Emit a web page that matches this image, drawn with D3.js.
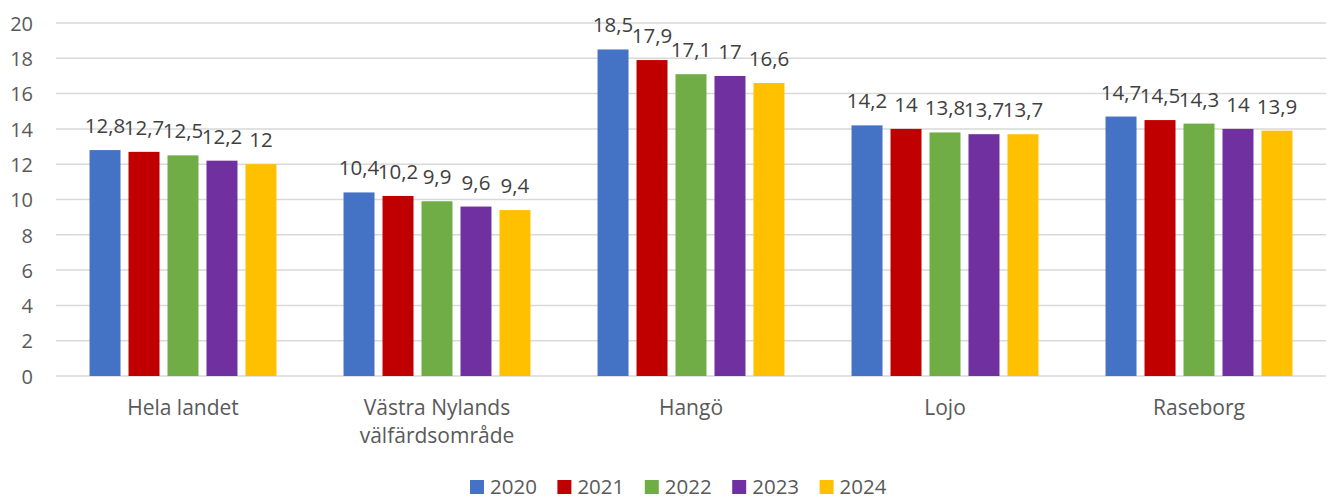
<!DOCTYPE html>
<html>
<head>
<meta charset="utf-8">
<script src="https://cdn.jsdelivr.net/npm/d3@7"></script>
<style>
  html, body { margin: 0; padding: 0; background: #fff; }
  svg { display: block; font-family: "Open Sans", "Noto Sans", sans-serif; }
</style>
</head>
<body>
<svg id="chart" width="1327" height="500"></svg>
<script>
// Categories (multi-line labels split on "\n")
const categories = ["Hela landet", "Västra Nylands\nvälfärdsområde", "Hangö", "Lojo", "Raseborg"];
const years = ["2020", "2021", "2022", "2023", "2024"];

// Values per year, one entry per category
const v2020 = [12.8, 10.4, 18.5, 14.2, 14.7];
const v2021 = [12.7, 10.2, 17.9, 14.0, 14.5];
const v2022 = [12.5, 9.9, 17.1, 13.8, 14.3];
const v2023 = [12.2, 9.6, 17.0, 13.7, 14.0];
const v2024 = [12.0, 9.4, 16.6, 13.7, 13.9];

const yTicks = [0, 2, 4, 6, 8, 10, 12, 14, 16, 18, 20];
const colors = ["#4472C4", "#C00000", "#70AD47", "#7030A0", "#FFC000"];

const seriesValues = [v2020, v2021, v2022, v2023, v2024];
const rows = categories.map((c, i) => ({
  category: c,
  values: years.map((y, j) => ({ year: y, value: seriesValues[j][i] }))
}));

const svg = d3.select("#chart");
const margin = { left: 56, right: 1, top: 23, bottom: 124 };
const W = 1327, H = 500;

const x0 = d3.scaleBand().domain(categories).range([margin.left, W - margin.right]).padding(0);
const x1 = d3.scaleBand().domain(years).range([0, x0.bandwidth()])
  .paddingInner(8 / 39).paddingOuter(0.86);
const y = d3.scaleLinear().domain([0, 20]).range([H - margin.bottom, margin.top]);

const fmt = v => String(v).replace(".", ",");

// Horizontal gridlines
svg.append("g")
  .selectAll("line")
  .data(yTicks)
  .join("line")
  .attr("x1", margin.left)
  .attr("x2", W - margin.right)
  .attr("y1", d => y(d))
  .attr("y2", d => y(d))
  .attr("stroke", "#D9D9D9")
  .attr("stroke-width", 1.5);

// Y axis labels
const yAxis = d3.axisLeft(y).tickValues(yTicks).tickSize(0).tickPadding(0).tickFormat(d => d);
svg.append("g")
  .attr("transform", `translate(33,0)`)
  .call(yAxis)
  .call(g => g.select(".domain").remove())
  .call(g => g.selectAll("text")
    .attr("fill", "#595959")
    .style("font-size", "20px")
    .style("font-family", "'Open Sans', sans-serif")
    .attr("dy", "0.36em"));

// Bars
const groups = svg.append("g")
  .selectAll("g")
  .data(rows)
  .join("g")
  .attr("transform", d => `translate(${x0(d.category)},0)`);

groups.selectAll("rect")
  .data(d => d.values)
  .join("rect")
  .attr("x", d => x1(d.year))
  .attr("y", d => y(d.value))
  .attr("width", x1.bandwidth())
  .attr("height", d => y(0) - y(d.value))
  .attr("fill", (d, i) => colors[i]);

// Value labels above bars
groups.selectAll("text.val")
  .data(d => d.values)
  .join("text")
  .attr("class", "val")
  .attr("x", d => x1(d.year) + x1.bandwidth() / 2)
  .attr("y", d => y(d.value) - 17)
  .attr("text-anchor", "middle")
  .attr("fill", "#404040")
  .style("font-size", "20.5px")
  .text(d => fmt(d.value));

// Category labels
const catLabels = svg.append("g")
  .selectAll("text")
  .data(categories)
  .join("text")
  .attr("x", d => x0(d) + x0.bandwidth() / 2)
  .attr("y", 415)
  .attr("text-anchor", "middle")
  .attr("fill", "#595959")
  .style("font-size", "21px");

catLabels.selectAll("tspan")
  .data(d => d.split("\n"))
  .join("tspan")
  .attr("x", function () { return d3.select(this.parentNode).attr("x"); })
  .attr("dy", (d, i) => i === 0 ? 0 : 28)
  .text(d => d);

// Legend
const legendX = d3.scaleBand().domain(years).range([470, 907]);
const legend = svg.append("g")
  .selectAll("g")
  .data(years)
  .join("g")
  .attr("transform", d => `translate(${legendX(d)},479)`);

legend.append("rect")
  .attr("width", 14)
  .attr("height", 14)
  .attr("y", 1)
  .attr("fill", (d, i) => colors[i]);

legend.append("text")
  .attr("x", 20)
  .attr("y", 15)
  .attr("fill", "#595959")
  .style("font-size", "20.5px")
  .text(d => d);
</script>
</body>
</html>
